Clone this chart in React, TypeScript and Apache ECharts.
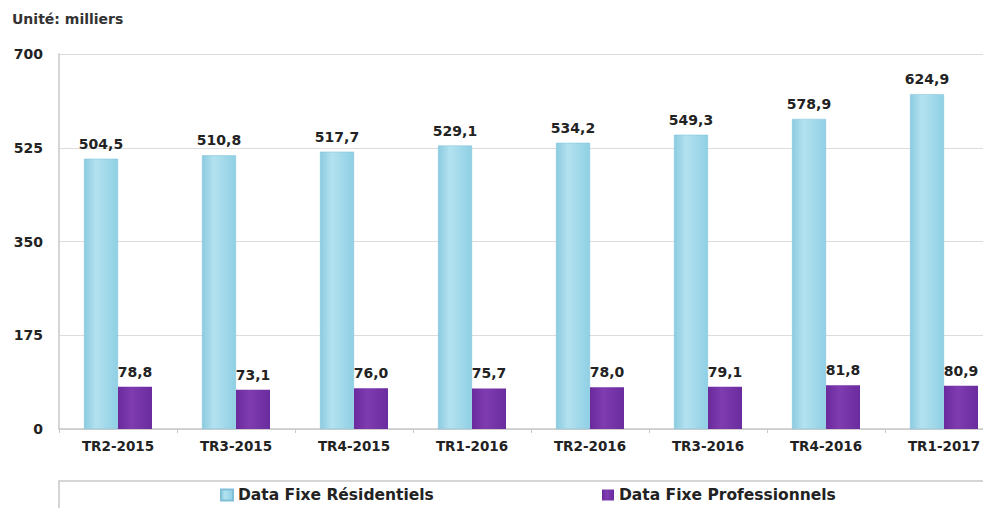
import React, { useEffect, useRef } from "react";
import * as echarts from "echarts";

const categories = ["TR2-2015", "TR3-2015", "TR4-2015", "TR1-2016", "TR2-2016", "TR3-2016", "TR4-2016", "TR1-2017"];
const residentiels = [504.5, 510.8, 517.7, 529.1, 534.2, 549.3, 578.9, 624.9];
const professionnels = [78.8, 73.1, 76.0, 75.7, 78.0, 79.1, 81.8, 80.9];
const yTicks = [0, 175, 350, 525, 700];

const FONT = "DejaVu Sans";

export default function App() {
  const ref = useRef<HTMLDivElement>(null);
  useEffect(() => {
    document.body.style.margin = "0";
    const chart = echarts.init(ref.current!, null, { renderer: "svg" });
    const fmt = (p: any) => Number(p.value).toFixed(1).replace(".", ",");
    const labelStyle = {
      show: true,
      position: "top",
      distance: 8,
      formatter: fmt,
      fontFamily: FONT,
      fontWeight: "bold",
      fontSize: 14,
      color: "#222",
    };
    const legendText = { fontFamily: FONT, fontWeight: "bold", fontSize: 15.5, lineHeight: 16, color: "#222" };
    chart.setOption({
      animation: false,
      backgroundColor: "#ffffff",
      textStyle: { fontFamily: FONT },
      graphic: [
        {
          type: "text",
          left: 12,
          top: 12,
          style: { text: "Unité: milliers", font: `bold 14px ${FONT}`, fill: "#333" },
        },
        {
          type: "rect",
          shape: { x: 59, y: 481, width: 960, height: 40 },
          style: { fill: "none", stroke: "#c8c8c8", lineWidth: 1.5 },
          silent: true,
        },
      ],
      legend: [
        {
          data: ["Data Fixe Résidentiels"],
          left: 220,
          top: 487,
          itemWidth: 12,
          itemHeight: 11,
          itemGap: 6,
          padding: 0,
          icon: "rect",
          textStyle: legendText,
        },
        {
          data: ["Data Fixe Professionnels"],
          left: 602,
          top: 487,
          itemWidth: 12,
          itemHeight: 11,
          padding: 0,
          icon: "rect",
          textStyle: legendText,
        },
      ],
      grid: { left: 59, top: 54, width: 944, bottom: 79, containLabel: false },
      xAxis: {
        type: "category",
        data: categories,
        axisLine: { lineStyle: { color: "#c8c8c8", width: 1.5 } },
        axisTick: { show: true, length: 4, lineStyle: { color: "#c8c8c8" } },
        axisLabel: { fontFamily: FONT, fontWeight: "bold", fontSize: 13.5, color: "#222", margin: 10 },
      },
      yAxis: {
        type: "value",
        min: 0,
        max: 700,
        interval: 175,
        axisLine: { show: true, lineStyle: { color: "#c8c8c8", width: 1.5 } },
        axisTick: { show: false },
        splitLine: { lineStyle: { color: "#dcdcdc", width: 1 } },
        axisLabel: {
          fontFamily: FONT,
          fontWeight: "bold",
          fontSize: 14,
          color: "#222",
          margin: 16,
          formatter: (v: number) => (yTicks.includes(v) ? String(v) : ""),
        },
      },
      series: [
        {
          name: "Data Fixe Résidentiels",
          type: "bar",
          data: residentiels,
          barWidth: 34,
          barGap: "0%",
          itemStyle: {
            color: new echarts.graphic.LinearGradient(0, 0, 1, 0, [
              { offset: 0, color: "#8ccbe0" },
              { offset: 0.35, color: "#b3e2f0" },
              { offset: 1, color: "#8fcfe4" },
            ]),
            borderColor: "#7fc0d8",
            borderWidth: 0.5,
          },
          label: labelStyle,
        },
        {
          name: "Data Fixe Professionnels",
          type: "bar",
          data: professionnels,
          barWidth: 34,
          itemStyle: {
            color: new echarts.graphic.LinearGradient(0, 0, 1, 0, [
              { offset: 0, color: "#6a2a9c" },
              { offset: 0.4, color: "#7e3cb0" },
              { offset: 1, color: "#6a2c9e" },
            ]),
          },
          label: labelStyle,
        },
      ],
    });
    return () => chart.dispose();
  }, []);
  return (
    <div style={{ position: "fixed", left: 0, top: 0, width: 983, height: 508, overflow: "hidden" }}>
      <div ref={ref} style={{ width: 1010, height: 508 }} />
    </div>
  );
}
